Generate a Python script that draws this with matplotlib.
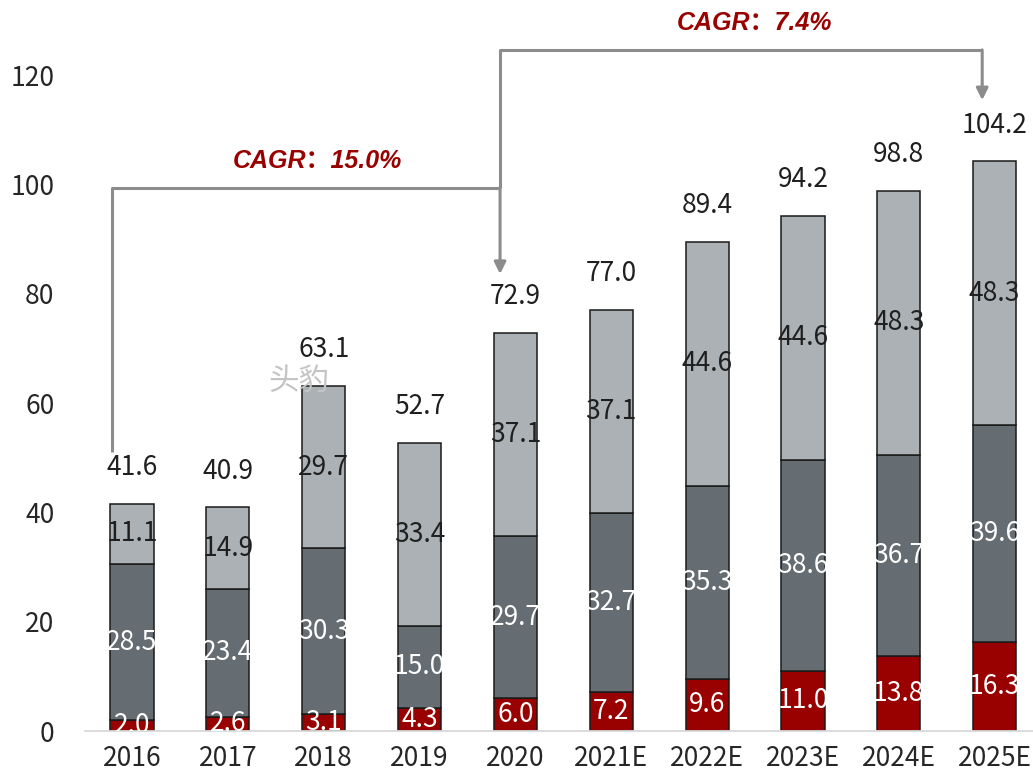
import matplotlib.pyplot as plt
import numpy as np

plt.rcParams['font.family'] = ['Noto Sans CJK SC', 'DejaVu Sans']
plt.rcParams['font.weight'] = 'light'

years = ['2016', '2017', '2018', '2019', '2020',
         '2021E', '2022E', '2023E', '2024E', '2025E']
bottom_part = [2.0, 2.6, 3.1, 4.3, 6.0, 7.2, 9.6, 11.0, 13.8, 16.3]
middle_part = [28.5, 23.4, 30.3, 15.0, 29.7, 32.7, 35.3, 38.6, 36.7, 39.6]
top_part = [11.1, 14.9, 29.7, 33.4, 37.1, 37.1, 44.6, 44.6, 48.3, 48.3]
totals = [41.6, 40.9, 63.1, 52.7, 72.9, 77.0, 89.4, 94.2, 98.8, 104.2]
cagr_early = 'CAGR：15.0%'
cagr_late = 'CAGR：7.4%'

RED = '#990000'
DARK = '#656C72'
LIGHT = '#ABB1B4'
ARROW = '#8C8C8C'

fig = plt.figure(figsize=(10.33, 7.72), dpi=100)
ax = fig.add_axes([0.0823, 0.0531, 0.9177, 0.8497])

x = np.arange(len(years))
w = 0.45
b1 = np.array(bottom_part)
b2 = b1 + np.array(middle_part)
kw = dict(width=w, edgecolor='#1a1a1a', linewidth=1.1)
ax.bar(x, bottom_part, color=RED, **kw)
ax.bar(x, middle_part, bottom=b1, color=DARK, **kw)
ax.bar(x, top_part, bottom=b2, color=LIGHT, **kw)

fs = 19
for i in x:
    ax.text(i, bottom_part[i] / 2, f'{bottom_part[i]:.1f}', ha='center', va='center',
            color='white', fontsize=fs, clip_on=True)
    ax.text(i, b1[i] + middle_part[i] / 2, f'{middle_part[i]:.1f}', ha='center',
            va='center', color='white', fontsize=fs)
    ax.text(i, b2[i] + top_part[i] / 2, f'{top_part[i]:.1f}', ha='center',
            va='center', color='#1f1f1f', fontsize=fs)
    ax.annotate(f'{totals[i]:.1f}', (i, b2[i] + top_part[i]), xytext=(0, 26),
                textcoords='offset points', ha='center', va='center',
                color='#1f1f1f', fontsize=fs)

# CAGR brackets
lk = dict(color=ARROW, lw=2.2, clip_on=False, solid_capstyle='butt')
ax.plot([-0.21, -0.21, 3.84], [51.0, 99.4, 99.4], **lk)
ax.annotate('', xy=(3.84, 83.6), xytext=(3.84, 99.4), annotation_clip=False,
            arrowprops=dict(arrowstyle='-|>,head_length=0.7,head_width=0.35',
                            color=ARROW, lw=2.2, shrinkA=0, shrinkB=0))
ax.plot([3.84, 3.84, 8.87], [99.4, 124.6, 124.6], **lk)
ax.annotate('', xy=(8.87, 115.4), xytext=(8.87, 124.6), annotation_clip=False,
            arrowprops=dict(arrowstyle='-|>,head_length=0.7,head_width=0.35',
                            color=ARROW, lw=2.2, shrinkA=0, shrinkB=0))

ck = dict(ha='center', va='center', color='#9a0000', fontsize=18, fontweight='bold',
          fontstyle='italic', family=['Liberation Sans', 'Noto Sans CJK SC'])
ax.text(1.94, 104.3, cagr_early, **ck)
ax.text(6.5, 129.6, cagr_late, clip_on=False, **ck)

# watermark
ax.text(1.74, 63.9, '头豹', ha='center', va='center', color='#c4c4c4',
        fontsize=22)

ax.set_xlim(-0.49, 9.4)
ax.set_ylim(0, 120)
ax.set_xticks(x)
ax.set_xticklabels(years)
ax.set_yticks(np.arange(0, 121, 20))
ax.tick_params(axis='both', length=0, labelsize=fs, colors='#262626')
ax.tick_params(axis='y', pad=22)
ax.tick_params(axis='x', pad=10)
for s in ['top', 'right', 'left']:
    ax.spines[s].set_visible(False)
ax.spines['bottom'].set_color('#d9d9d9')
ax.spines['bottom'].set_linewidth(1.3)

fig.savefig('out.png', dpi=100)
